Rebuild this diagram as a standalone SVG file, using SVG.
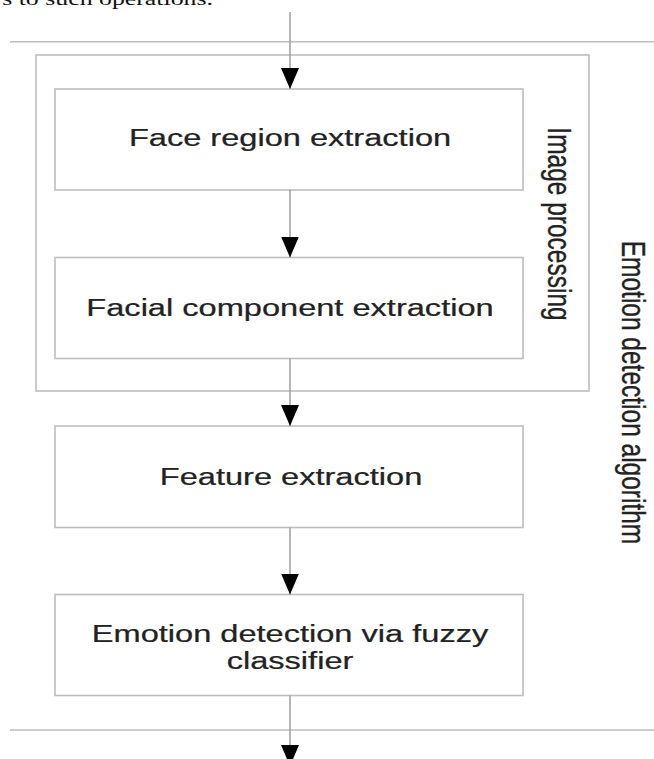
<svg xmlns="http://www.w3.org/2000/svg" width="654" height="759" viewBox="0 0 654 759">
<style>
.frame{fill:none;stroke:#bdbdbd;stroke-width:1.6}
.box{fill:#ffffff;stroke:#bdbdbd;stroke-width:1.6}
.conn{fill:none;stroke:#9e9e9e;stroke-width:1.5}
.lbl{font-family:"Liberation Sans",Arial,sans-serif;font-size:24.5px;fill:#222222;text-anchor:middle;stroke:#222222;stroke-width:0.25}
.cap{font-family:"Liberation Serif","Times New Roman",serif;font-size:19px;fill:#111;text-anchor:end}
</style>
<defs>
<marker id="ah" viewBox="0 0 21 18" refX="21" refY="9" markerWidth="21" markerHeight="18" markerUnits="userSpaceOnUse" orient="auto">
<path d="M0,0 L21,9 L0,18 Z" fill="#000"/>
</marker>
</defs>
<rect width="654" height="759" fill="#ffffff"/>
<text class="cap" transform="translate(213,5) scale(1.36,1)">s to such operations.</text>
<g id="separators">
<line class="frame" x1="10" y1="41.7" x2="654" y2="41.7"/>
<line class="frame" x1="10" y1="730" x2="654" y2="730"/>
</g>
<g id="emotion-detection-algorithm">
<text class="lbl" transform="translate(622,392.5) scale(1.33,1) rotate(90)">Emotion detection algorithm</text>
</g>
<g id="image-processing">
<rect class="frame" x="36" y="55" width="553" height="336"/>
<text class="lbl" transform="translate(548,224) scale(1.33,1) rotate(90)">Image processing</text>
</g>
<g id="face-region-extraction">
<rect class="box" x="55" y="89" width="468" height="101"/>
<text class="lbl" transform="translate(290,146) scale(1.33,1)">Face region extraction</text>
</g>
<g id="facial-component-extraction">
<rect class="box" x="55" y="257.5" width="468" height="101"/>
<text class="lbl" transform="translate(290,316) scale(1.33,1)">Facial component extraction</text>
</g>
<g id="feature-extraction">
<rect class="box" x="55" y="426" width="468" height="101.5"/>
<text class="lbl" transform="translate(291,485) scale(1.33,1)">Feature extraction</text>
</g>
<g id="emotion-detection">
<rect class="box" x="55" y="594.5" width="468" height="101"/>
<text class="lbl" transform="translate(290,641.5) scale(1.33,1)">Emotion detection via fuzzy</text>
<text class="lbl" transform="translate(290,668.5) scale(1.33,1)">classifier</text>
</g>
<g id="connectors">
<line class="conn" x1="290" y1="12" x2="290" y2="89" marker-end="url(#ah)"/>
<line class="conn" x1="290" y1="190" x2="290" y2="257.5" marker-end="url(#ah)"/>
<line class="conn" x1="290" y1="358.5" x2="290" y2="426" marker-end="url(#ah)"/>
<line class="conn" x1="290" y1="527.5" x2="290" y2="594.5" marker-end="url(#ah)"/>
<line class="conn" x1="290" y1="695.5" x2="290" y2="766" marker-end="url(#ah)"/>
</g>
</svg>
